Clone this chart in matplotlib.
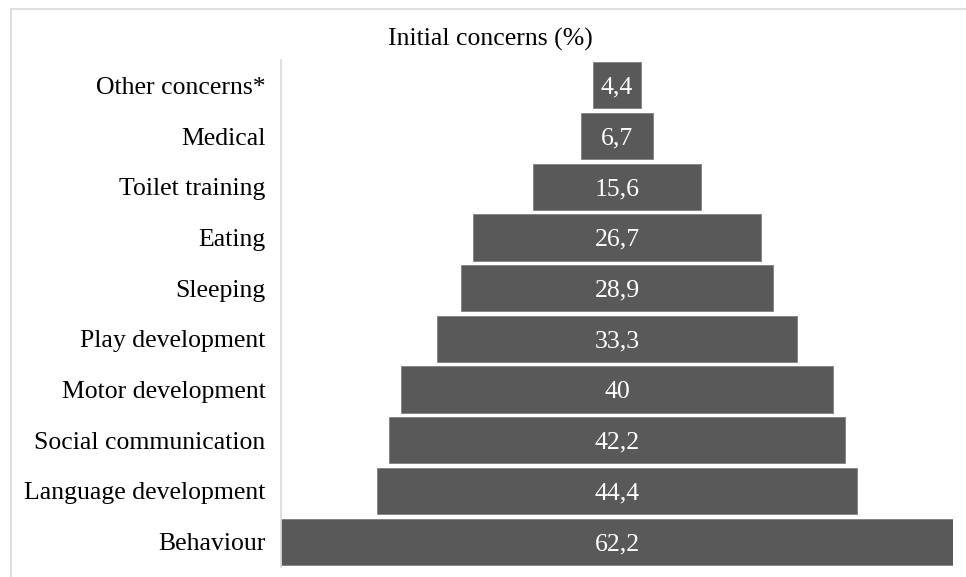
import matplotlib.pyplot as plt
import matplotlib.transforms as mtransforms
from matplotlib.lines import Line2D

categorias = ['Other concerns*', 'Medical', 'Toilet training', 'Eating', 'Sleeping',
              'Play development', 'Motor development', 'Social communication',
              'Language development', 'Behaviour']
valores = [4.4, 6.7, 15.6, 26.7, 28.9, 33.3, 40, 42.2, 44.4, 62.2]
etiquetas = ['4,4', '6,7', '15,6', '26,7', '28,9', '33,3', '40', '42,2', '44,4', '62,2']

plt.rcParams['font.family'] = ['Liberation Serif', 'DejaVu Serif']

fig = plt.figure(figsize=(9.66, 5.77), dpi=100)
ax = fig.add_axes([281 / 966, 1 - 567 / 577, 672 / 966, 507 / 577])

pos = list(range(len(categorias)))
izq = [-v / 2 for v in valores]
ax.barh(pos, valores, left=izq, height=0.91, color='#595959',
        edgecolor='#7f7f7f', linewidth=0.6)

# desplazar los textos unos pixeles hacia abajo
bajar = mtransforms.ScaledTranslation(0, -2.5 / 100, fig.dpi_scale_trans)

for p, e in zip(pos, etiquetas):
    ax.text(0, p, e, color='white', ha='center', va='center', fontsize=18.5,
            transform=ax.transData + bajar)

m = max(valores) / 2
ax.set_xlim(-m, m)
ax.set_ylim(len(categorias) - 0.5, -0.5)
ax.set_yticks(pos)
ax.set_yticklabels(categorias, fontsize=18.5)
for lbl in ax.get_yticklabels():
    lbl.set_transform(lbl.get_transform() + bajar)
ax.tick_params(axis='y', length=0, pad=11)
ax.set_xticks([])
for s in ['top', 'right', 'bottom']:
    ax.spines[s].set_visible(False)
ax.spines['left'].set_color('#d9d9d9')
ax.spines['left'].set_linewidth(1.2)

fig.text(490 / 966, 1 - 39 / 577, 'Initial concerns (%)', ha='center', va='center',
         fontsize=18.5)

# marco exterior (solo izquierda y arriba visibles)
fig.add_artist(Line2D([11 / 966, 11 / 966], [0, 1 - 9 / 577], color='#d9d9d9',
                      linewidth=1.2, transform=fig.transFigure))
fig.add_artist(Line2D([11 / 966, 1], [1 - 9 / 577, 1 - 9 / 577], color='#d9d9d9',
                      linewidth=1.2, transform=fig.transFigure))

fig.savefig('out.png', dpi=100)
